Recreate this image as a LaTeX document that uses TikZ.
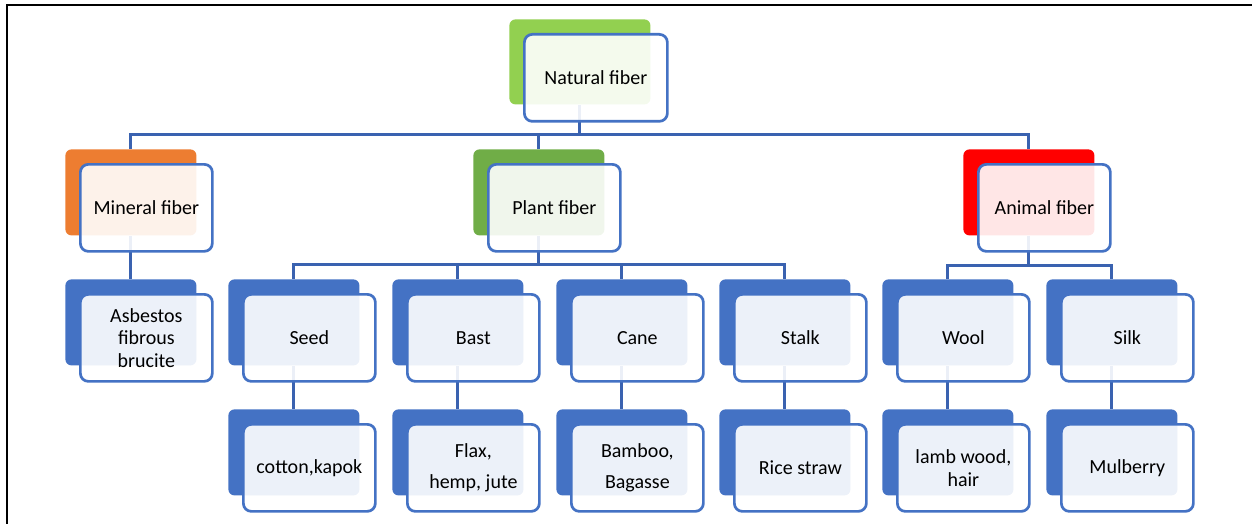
\documentclass[tikz,border=0pt]{standalone}
\usepackage{fontspec}
\setmainfont{Carlito}
\usetikzlibrary{positioning}
\definecolor{boxblue}{HTML}{4472C4}
\definecolor{linkblue}{HTML}{3A62B0}
\definecolor{natgreen}{HTML}{92D050}
\definecolor{plantgreen}{HTML}{70AD47}
\definecolor{minorange}{HTML}{ED7D31}
\tikzset{
    back/.style={fill=#1, rounded corners=3pt, minimum width=65.5pt, minimum height=43pt, inner sep=0pt, anchor=north west},
    back/.default=boxblue,
    front/.style={draw=boxblue, line width=1.35pt, fill=white, fill opacity=0.9, text opacity=1,
        rounded corners=4pt, minimum width=66pt, minimum height=43.5pt, inner sep=0pt,
        align=center, anchor=north west, font=\fontsize{10}{11.3}\selectfont},
    link/.style={draw=linkblue, line width=1.5pt},
}

\begin{document}
\begin{tikzpicture}[x=0.5pt,y=-0.5pt]
        \useasboundingbox (0,0) rectangle (1252,524);
        \draw[line width=1.2pt] (1252,5) -- (7,5) -- (7,524);
        % back boxes
        \node[back=natgreen, minimum width=70.5pt, minimum height=42.5pt] (natb) at (509,19) {};
        \node[back=minorange] (minb) at (65,149) {};
        \node[back=plantgreen] (plantb) at (473,149) {};
        \node[back=red] (animb) at (963,149) {};
        \node[back] (asbb) at (65,279) {};
        \node[back] (seedb) at (228,279) {};
        \node[back] (bastb) at (392,279) {};
        \node[back] (caneb) at (556,279) {};
        \node[back] (stalkb) at (719,279) {};
        \node[back] (woolb) at (882,279) {};
        \node[back] (silkb) at (1046,279) {};
        \node[back] (cottonb) at (228,409) {};
        \node[back] (flaxb) at (392,409) {};
        \node[back] (bambb) at (556,409) {};
        \node[back] (riceb) at (719,409) {};
        \node[back] (lambb) at (882,409) {};
        \node[back] (mulbb) at (1046,409) {};
        % connectors
        \draw[link] (natb.south) -- ++(0,30) coordinate (bus1);
        \draw[link] (bus1) -| (minb.north);
        \draw[link] (bus1) -| (plantb.north);
        \draw[link] (bus1) -| (animb.north);
        \draw[link] (minb.south) -- (asbb.north);
        \draw[link] (plantb.south) -- ++(0,29) coordinate (bus2);
        \draw[link] (bus2) -| (seedb.north);
        \draw[link] (bus2) -| (bastb.north);
        \draw[link] (bus2) -| (caneb.north);
        \draw[link] (bus2) -| (stalkb.north);
        \draw[link] (animb.south) -- ++(0,30) coordinate (bus3);
        \draw[link] (bus3) -| (woolb.north);
        \draw[link] (bus3) -| (silkb.north);
        \draw[link] (seedb.south) -- (cottonb.north);
        \draw[link] (bastb.south) -- (flaxb.north);
        \draw[link] (caneb.south) -- (bambb.north);
        \draw[link] (stalkb.south) -- (riceb.north);
        \draw[link] (woolb.south) -- (lambb.north);
        \draw[link] (silkb.south) -- (mulbb.north);
        % front boxes
        \node[front, minimum width=71.5pt] (nat) at ([shift={(14,14)}]natb.north west) {Natural fiber};
        \node[front] (min) at ([shift={(14,14)}]minb.north west) {Mineral fiber};
        \node[front] (plant) at ([shift={(14,14)}]plantb.north west) {Plant fiber};
        \node[front] (anim) at ([shift={(14,14)}]animb.north west) {Animal fiber};
        \node[front] (asb) at ([shift={(14,14)}]asbb.north west) {Asbestos\\fibrous\\brucite};
        \node[front] (seed) at ([shift={(14,14)}]seedb.north west) {Seed};
        \node[front] (bast) at ([shift={(14,14)}]bastb.north west) {Bast};
        \node[front] (cane) at ([shift={(14,14)}]caneb.north west) {Cane};
        \node[front] (stalk) at ([shift={(14,14)}]stalkb.north west) {Stalk};
        \node[front] (wool) at ([shift={(14,14)}]woolb.north west) {Wool};
        \node[front] (silk) at ([shift={(14,14)}]silkb.north west) {Silk};
        \node[front] (cotton) at ([shift={(14,14)}]cottonb.north west) {cotton,kapok};
        \node[front] (flax) at ([shift={(14,14)}]flaxb.north west) {Flax,\\[4pt]hemp, jute};
        \node[front] (bamb) at ([shift={(14,14)}]bambb.north west) {Bamboo,\\[4pt]Bagasse};
        \node[front] (rice) at ([shift={(14,14)}]riceb.north west) {Rice straw};
        \node[front] (lamb) at ([shift={(14,14)}]lambb.north west) {lamb wood,\\hair};
        \node[front] (mulb) at ([shift={(14,14)}]mulbb.north west) {Mulberry};
    \end{tikzpicture}
\end{document}
